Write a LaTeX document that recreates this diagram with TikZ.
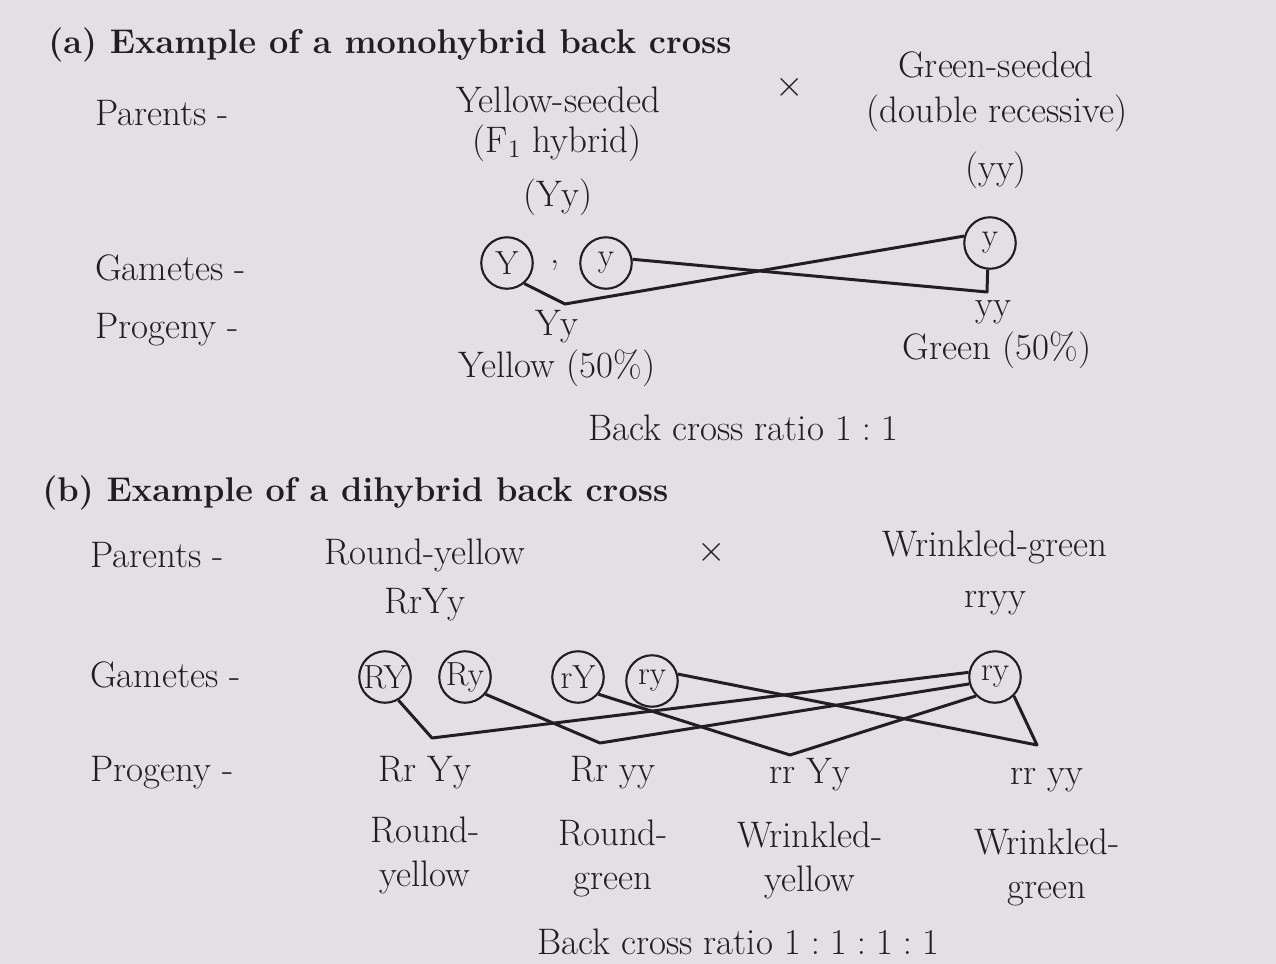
\documentclass[tikz,border=0pt]{standalone}
\usetikzlibrary{positioning}
\definecolor{pagegray}{RGB}{226,223,229}
\definecolor{inkc}{RGB}{32,30,33}
\tikzset{
  lbl/.style={font=\fontsize{21}{25}\selectfont, text=inkc, inner sep=1pt},
  rowlbl/.style={lbl, anchor=west},
  headln/.style={font=\fontsize{19.5}{22}\selectfont\bfseries, text=inkc, anchor=west, inner sep=0pt},
  gam/.style={font=\fontsize{19}{22}\selectfont, text=inkc, draw=inkc, circle, line width=1.2pt,
    minimum size=1.03cm, inner sep=-5pt},
  crossln/.style={draw=inkc, line width=1.7pt, line join=round},
}

\begin{document}
\begin{tikzpicture}[x=0.02cm, y=-0.02cm]
    \fill[pagegray] (0,0) rectangle (1276,964);
    \useasboundingbox (0,0) rectangle (1276,964);
    % (a) monohybrid back cross
    \node[headln] (headA) at (48,45) {(a) Example of a monohybrid back cross};
    \node[rowlbl] (parA) at (93,113) {Parents -};
    \node[lbl] (yelP) at (558,100) {Yellow-seeded};
    \node[lbl] (hybP) at (557,143) {(F$_1$ hybrid)};
    \node[lbl] (genP1) at (558,197) {(Yy)};
    \node[lbl] (crossA) at (790,87) {$\times$};
    \node[lbl] (grnP) at (996,65) {Green-seeded};
    \node[lbl] (dblP) at (997,113) {(double recessive)};
    \node[lbl] (genP2) at (996,170) {(yy)};
    % gametes
    \node[rowlbl] (gamA) at (93,268) {Gametes -};
    \node[gam] (gY) at (507,263) {Y};
    \node[lbl] (sepA) at (555,266) {,};
    \node[gam] (gyL) at (606,263) {y};
    \node[gam] (gyR) at (990,243) {y};
    % progeny
    \node[rowlbl] (progA) at (93,330) {Progeny -};
    \node[lbl] (offA1) at (557,327) {Yy};
    \node[lbl] (phA1) at (557,368) {Yellow (50\%)};
    \node[lbl] (offA2) at (993,312) {yy};
    \node[lbl] (phA2) at (997,350) {Green (50\%)};
    \node[lbl] (ratioA) at (743,428) {Back cross ratio $1:1$};
    % crossing lines
    \coordinate (vA1) at (565,304);
    \coordinate (vA2) at (987,292);
    \draw[crossln] (gY.-50) -- (vA1) -- (gyR.165);
    \draw[crossln] (gyL.8) -- (vA2) -- (gyR.-95);

    % (b) dihybrid back cross
    \node[headln] (headB) at (42,493) {(b) Example of a dihybrid back cross};
    \node[rowlbl] (parB) at (88,555) {Parents -};
    \node[lbl] (rndP) at (425,555) {Round-yellow};
    \node[lbl] (crossB) at (712,552) {$\times$};
    \node[lbl] (wrkP) at (995,547) {Wrinkled-green};
    \node[lbl] (genP3) at (425,605) {RrYy};
    \node[lbl] (genP4) at (995,603) {rryy};
    % gametes
    \node[rowlbl] (gamB) at (88,675) {Gametes -};
    \node[gam] (gRY) at (385,677) {RY};
    \node[gam] (gRy) at (465,677) {Ry};
    \node[gam] (grY) at (578,677) {rY};
    \node[gam] (gryL) at (652,681) {ry};
    \node[gam] (gryR) at (995,677) {ry};
    % progeny
    \node[rowlbl] (progB) at (88,773) {Progeny -};
    \node[lbl] (offB1) at (425,773) {Rr Yy};
    \node[lbl] (offB2) at (613,773) {Rr yy};
    \node[lbl] (offB3) at (810,775) {rr Yy};
    \node[lbl] (offB4) at (1047,780) {rr yy};
    \node[lbl, align=center] (phB1) at (425,855) {Round-\\yellow};
    \node[lbl, align=center] (phB2) at (613,858) {Round-\\green};
    \node[lbl, align=center] (phB3) at (810,860) {Wrinkled-\\yellow};
    \node[lbl, align=center] (phB4) at (1047,867) {Wrinkled-\\green};
    \node[lbl] (ratioB) at (738,942) {Back cross ratio $1:1:1:1$};
    % crossing lines
    \coordinate (vB1) at (432,738);
    \coordinate (vB2) at (600,743);
    \coordinate (vB3) at (790,755);
    \coordinate (vB4) at (1037,745);
    \draw[crossln] (gRY.-60) -- (vB1) -- (gryR.170);
    \draw[crossln] (gRy.-40) -- (vB2) -- (gryR.195);
    \draw[crossln] (grY.-40) -- (vB3) -- (gryR.225);
    \draw[crossln] (gryL.15) -- (vB4) -- (gryR.-45);
  \end{tikzpicture}
\end{document}
